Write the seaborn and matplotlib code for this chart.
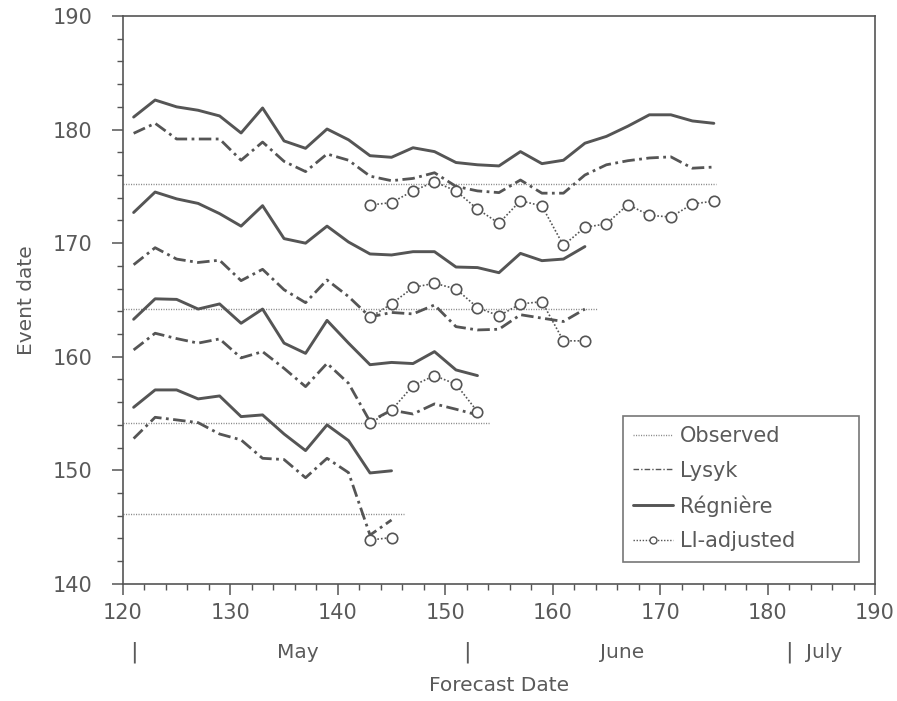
import matplotlib
matplotlib.use("Agg")
import matplotlib.pyplot as plt
from matplotlib.lines import Line2D
from matplotlib.ticker import MultipleLocator
import seaborn as sns

# Forecast dates (day of year), every second day
forecast_days = list(range(121, 176, 2))

# Observed event dates (four phenological events)
observed = [175.2, 164.2, 154.2, 146.2]

# Event 1
regniere_1 = [181.1, 182.6, 182.0, 181.7, 181.2, 179.7, 181.9, 179.0, 178.35, 180.05,
              179.1, 177.7, 177.56, 178.4, 178.06, 177.1, 176.9, 176.8, 178.06, 177.0,
              177.3, 178.8, 179.4, 180.3, 181.3, 181.3, 180.76, 180.55]
lysyk_1 = [179.67, 180.55, 179.17, 179.17, 179.17, 177.3, 178.9, 177.2, 176.3, 177.85,
           177.3, 175.9, 175.5, 175.7, 176.2, 175.0, 174.6, 174.45, 175.56, 174.4,
           174.4, 176.0, 176.9, 177.26, 177.5, 177.6, 176.6, 176.7]
li_adjusted_1 = [173.36, 173.57, 174.6, 175.4, 174.6, 173.0, 171.75, 173.74, 173.27,
                 169.8, 171.4, 171.7, 173.4, 172.45, 172.3, 173.45, 173.7]

# Event 2
regniere_2 = [172.7, 174.5, 173.9, 173.5, 172.6, 171.5, 173.3, 170.4, 170.0, 171.5,
              170.1, 169.05, 168.96, 169.25, 169.25, 167.9, 167.85, 167.4, 169.1, 168.46,
              168.6, 169.7]
lysyk_2 = [168.1, 169.6, 168.6, 168.3, 168.5, 166.7, 167.7, 165.9, 164.76, 166.76,
           165.3, 163.5, 163.9, 163.77, 164.56, 162.65, 162.36, 162.42, 163.7, 163.4,
           163.1, 164.2]
li_adjusted_2 = [163.47, 164.65, 166.1, 166.47, 165.97, 164.33, 163.6, 164.65, 164.85,
                 161.4, 161.4]

# Event 3
regniere_3 = [163.3, 165.1, 165.05, 164.2, 164.65, 162.95, 164.2, 161.2, 160.3, 163.2,
              161.2, 159.3, 159.5, 159.4, 160.45, 158.84, 158.34]
lysyk_3 = [160.6, 162.07, 161.6, 161.2, 161.57, 159.9, 160.45, 158.98, 157.37, 159.42,
           157.66, 154.3, 155.3, 154.96, 155.85, 155.38, 154.88]
li_adjusted_3 = [154.14, 155.3, 157.46, 158.34, 157.58, 155.17]

# Event 4
regniere_4 = [155.55, 157.08, 157.08, 156.29, 156.55, 154.73, 154.88, 153.2, 151.74,
              154.0, 152.62, 149.77, 149.96]
lysyk_4 = [152.8, 154.67, 154.44, 154.2, 153.2, 152.68, 151.06, 150.95, 149.35, 151.06,
           149.8, 144.3, 145.63]
li_adjusted_4 = [143.87, 144.08]

li_start = 143

x_ticks = [120, 130, 140, 150, 160, 170, 180, 190]
y_ticks = [140, 150, 160, 170, 180, 190]
month_marks = [121, 152, 182]
month_names = [("May", 136.3), ("June", 166.5)]

sns.set_theme(style="white")
plt.rcParams["font.family"] = ["DejaVu Sans"]

ink = "#555555"
text_ink = "#5a5a5a"
dashdot = (0, (4.5, 1.6, 1.0, 1.6))
dotted = (0, (1.0, 1.2))

fig = plt.figure(figsize=(8.97, 7.01), dpi=100)
ax = fig.add_axes([0.137, 0.167, 0.8385, 0.8102])

groups = [
    (regniere_1, lysyk_1, li_adjusted_1, observed[0]),
    (regniere_2, lysyk_2, li_adjusted_2, observed[1]),
    (regniere_3, lysyk_3, li_adjusted_3, observed[2]),
    (regniere_4, lysyk_4, li_adjusted_4, observed[3]),
]

for reg, lys, li, obs in groups:
    sns.lineplot(x=[120, obs], y=[obs, obs], ax=ax, color="#8a8a8a",
                 linewidth=1.0, linestyle=(0, (0.8, 1.0)), legend=False)
    sns.lineplot(x=forecast_days[:len(reg)], y=reg, ax=ax, color=ink,
                 linewidth=2.1, legend=False)
    sns.lineplot(x=forecast_days[:len(lys)], y=lys, ax=ax, color=ink,
                 linewidth=2.0, linestyle=dashdot, legend=False)
    li_days = list(range(li_start, li_start + 2 * len(li), 2))
    sns.lineplot(x=li_days, y=li, ax=ax, color=ink, linewidth=1.2,
                 linestyle=dotted, marker="o", markersize=7.5,
                 markerfacecolor="white", markeredgecolor=ink,
                 markeredgewidth=1.2, legend=False)

ax.set_xlim(120, 190)
ax.set_ylim(140, 190)
ax.set_xticks(x_ticks)
ax.set_yticks(y_ticks)
ax.xaxis.set_minor_locator(MultipleLocator(2))
ax.yaxis.set_minor_locator(MultipleLocator(2))
ax.tick_params(axis="both", which="both", bottom=True, left=True,
               top=False, right=False)
ax.tick_params(axis="both", which="major", direction="out", length=8, width=1.1,
               color=ink, labelsize=15, labelcolor=text_ink, pad=6)
ax.tick_params(axis="both", which="minor", direction="out", length=4, width=1.0,
               color=ink)
ax.tick_params(axis="y", which="major", pad=14)
for side in ["left", "bottom", "top", "right"]:
    ax.spines[side].set_visible(True)
    ax.spines[side].set_color(ink)
    ax.spines[side].set_linewidth(1.2)

ax.set_xlabel("")
ax.set_ylabel("Event date", fontsize=14.5, color=text_ink, labelpad=12)

# Month markers beneath the day-of-year axis
trans = ax.get_xaxis_transform()
for d in month_marks:
    ax.text(d, -0.12, "|", transform=trans, ha="center", va="center",
            fontsize=16, color=text_ink, clip_on=False)
for name, pos in month_names:
    ax.text(pos, -0.12, name, transform=trans, ha="center", va="center",
            fontsize=14.5, color=text_ink, clip_on=False)
ax.text(183.6, -0.12, "July", transform=trans, ha="left", va="center",
        fontsize=14.5, color=text_ink, clip_on=False)
ax.text(0.5, -0.178, "Forecast Date", transform=ax.transAxes, ha="center",
        va="center", fontsize=14.5, color=text_ink)

handles = [
    Line2D([], [], color="#8a8a8a", linewidth=1.0, linestyle=(0, (0.8, 1.0))),
    Line2D([], [], color=ink, linewidth=1.0, linestyle=(0, (4, 1.5, 1, 1.5))),
    Line2D([], [], color=ink, linewidth=2.1),
    Line2D([], [], color=ink, linewidth=1.0, linestyle=dotted, marker="o",
           markersize=5, markerfacecolor="white", markeredgecolor=ink,
           markeredgewidth=1.0),
]
labels = ["Observed", "Lysyk", "Régnière", "LI-adjusted"]
leg = ax.legend(handles, labels, loc="lower left",
                bbox_to_anchor=(0.665, 0.039, 0.314, 0.26), mode="expand",
                fontsize=15, frameon=True, fancybox=False, shadow=False,
                handlelength=1.9, handletextpad=0.35, labelspacing=0.7,
                borderpad=0.5, borderaxespad=0.0, labelcolor=text_ink,
                markerfirst=True)
leg.get_frame().set_edgecolor(ink)
leg.get_frame().set_linewidth(1.2)
leg.get_frame().set_facecolor("white")

fig.savefig("out.png", dpi=100, facecolor="white")
